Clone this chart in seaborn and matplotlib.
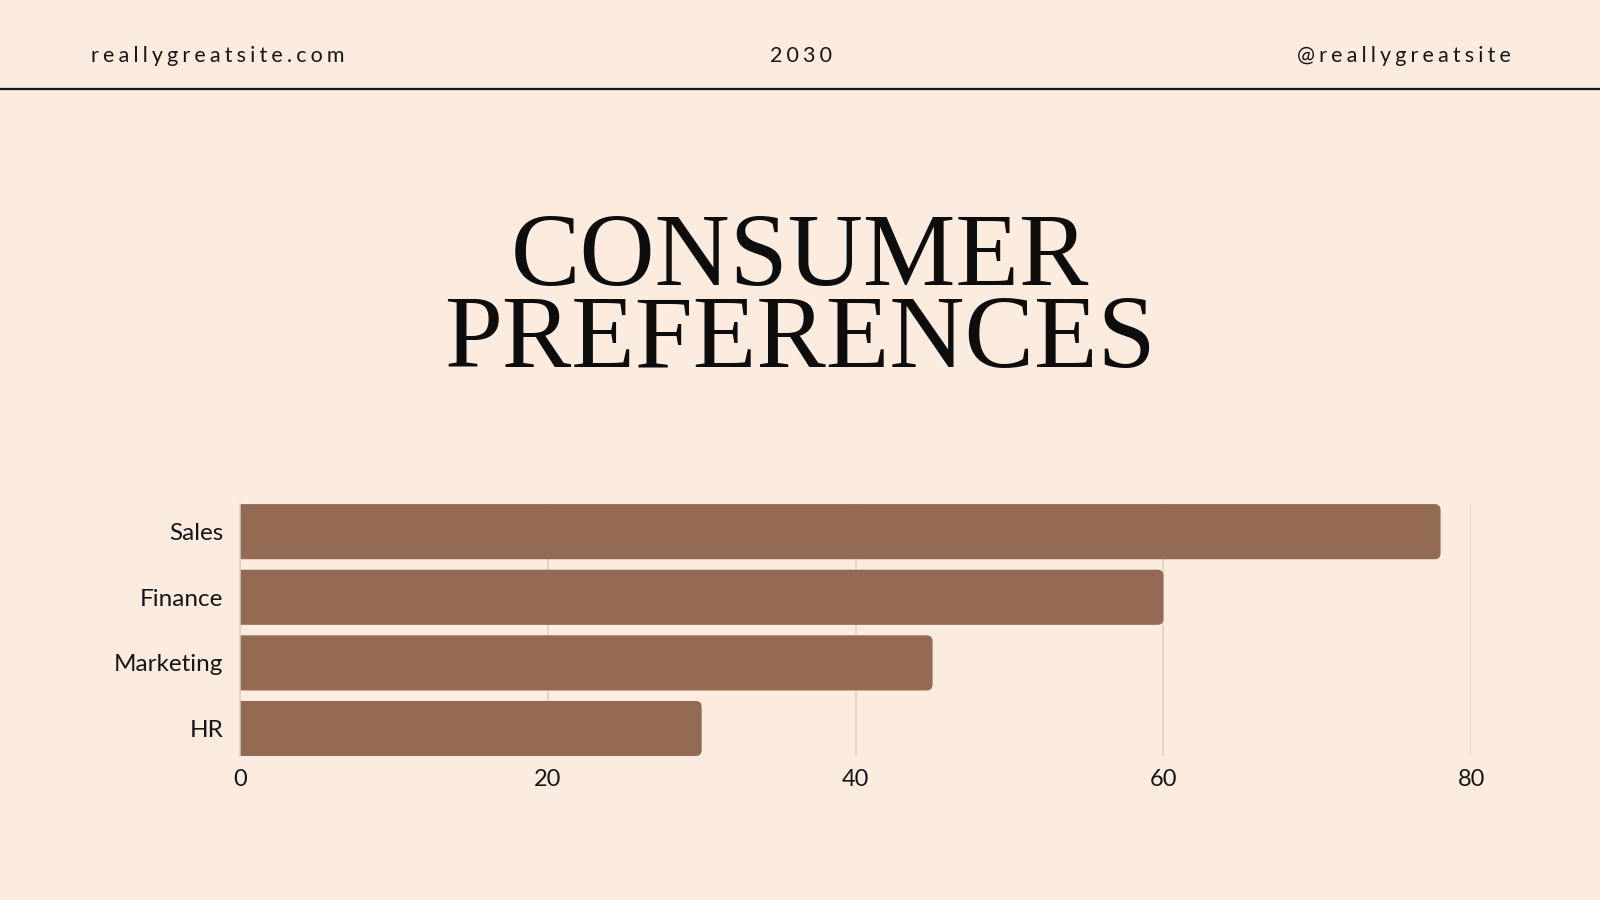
import matplotlib
matplotlib.use("Agg")
import matplotlib.pyplot as plt
import seaborn as sns
import pandas as pd
from matplotlib.patches import FancyBboxPatch

# chart data
departments = ["Sales", "Finance", "Marketing", "HR"]
scores = [78, 60, 45, 30]
x_ticks = [0, 20, 40, 60, 80]

# header texts
site = "reallygreatsite.com"
year = "2030"
handle = "@reallygreatsite"
title_lines = ["CONSUMER", "PREFERENCES"]

bg = "#fcebdf"
bar_color = "#936b55"
grid_color = "#dccfc3"
ink = "#161616"

sns.set_theme(style="whitegrid")
plt.rcParams["font.family"] = ["Lato", "DejaVu Sans"]

fig = plt.figure(figsize=(16, 9), dpi=100, facecolor=bg)
ax = fig.add_axes([0.1499, 0.1599, 0.7697, 0.2800])
ax.set_facecolor(bg)

df = pd.DataFrame({"department": departments, "score": scores})
sns.barplot(data=df, x="score", y="department", orient="h",
            color=bar_color, width=0.84, saturation=1, ax=ax)

ax.set_xlim(0, 80)
ax.set_ylim(3.42, -0.42)
ax.set_xticks(x_ticks)
ax.set_xlabel("")
ax.set_ylabel("")
ax.grid(axis="x", color=grid_color, lw=1.1)
ax.grid(axis="y", visible=False)
ax.set_axisbelow(True)
for side in ["top", "right", "bottom"]:
    ax.spines[side].set_visible(False)
ax.spines["left"].set_color(grid_color)
ax.spines["left"].set_linewidth(1.1)
ax.tick_params(axis="x", length=0, pad=9, labelsize=17, labelcolor=ink)
ax.tick_params(axis="y", length=0, pad=12, labelsize=17.5, labelcolor=ink)

# swap the plain bars for ones with rounded right corners
fig.canvas.draw()
radius_px = 6
x_per_px = 80 / ax.get_window_extent().width
y_per_px = 3.84 / ax.get_window_extent().height
r = radius_px * x_per_px
for bar in list(ax.patches):
    x0, y0 = bar.get_x(), bar.get_y()
    w, h = bar.get_width(), bar.get_height()
    bar.remove()
    rounded = FancyBboxPatch((x0 - 2 * r, y0), w + 2 * r, h,
                             boxstyle=f"round,pad=0,rounding_size={r}",
                             mutation_aspect=y_per_px / x_per_px,
                             facecolor=bar_color, edgecolor="none", zorder=2)
    ax.add_patch(rounded)

# header with letter spacing
def spaced(s):
    return "\u2009\u200a".join(s)

fig.text(0.0568, 0.9376, spaced(site), ha="left", va="center",
         fontsize=15.5, color=ink)
fig.text(0.5006, 0.9376, spaced(year), ha="center", va="center",
         fontsize=15.5, color=ink)
fig.text(0.9445, 0.9376, spaced(handle), ha="right", va="center",
         fontsize=15.5, color=ink)
fig.add_artist(plt.Line2D([0, 1], [0.9014, 0.9014], color=ink, lw=1.6))

# big serif title, one block of two lines
fig.text(0.5, 0.5918, "\n".join(title_lines), ha="center", va="baseline",
         multialignment="center", linespacing=0.84,
         fontsize=75, color="#0d0d0d", family=["Liberation Serif", "DejaVu Serif"])

fig.savefig("out.png", dpi=100, facecolor=bg)
